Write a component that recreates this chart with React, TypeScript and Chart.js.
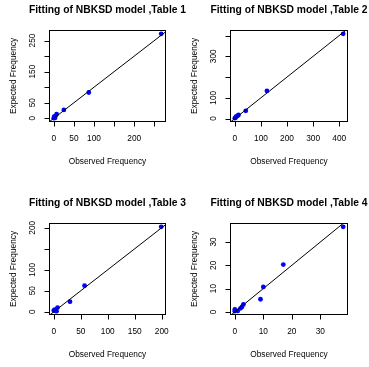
import React, { useEffect, useRef } from "react";
import { Chart, registerables } from "chart.js";

Chart.register(...registerables);

// ---------- data ----------
const titles = [
  "Fitting of NBKSD model ,Table 1",
  "Fitting of NBKSD model ,Table 2",
  "Fitting of NBKSD model ,Table 3",
  "Fitting of NBKSD model ,Table 4",
];

const observed1 = [0, 1, 3, 4, 7, 25, 87, 267];
const expected1 = [0.5, 5, 1, 7, 13, 27, 83, 271.5];
const observed2 = [0, 3, 6, 10, 14, 42, 123, 415];
const expected2 = [2, 5, 10, 13, 17, 37, 133, 408];
const observed3 = [0, 2, 5, 4, 7, 30, 57, 199];
const expected3 = [3, 5, 1.5, 2, 10, 24, 62, 202];
const observed4 = [0, 0, 1, 2, 2.5, 3, 9, 10, 17, 38];
const expected4 = [0.3, 1, 0.4, 1.5, 2.1, 3.2, 5.4, 10.7, 20.3, 36.5];

const xTicks1 = [0, 50, 100, 150, 200, 250];
const xTickLabels1 = ["0", "50", "100", "", "200", ""];
const yTicks1 = [0, 50, 100, 150, 200, 250];
const yTickLabels1 = ["0", "50", "", "150", "", "250"];

const xTicks2 = [0, 100, 200, 300, 400];
const xTickLabels2 = ["0", "100", "200", "300", "400"];
const yTicks2 = [0, 100, 200, 300, 400];
const yTickLabels2 = ["0", "100", "", "300", ""];

const xTicks3 = [0, 50, 100, 150, 200];
const xTickLabels3 = ["0", "50", "100", "150", "200"];
const yTicks3 = [0, 50, 100, 150, 200];
const yTickLabels3 = ["0", "50", "100", "", "200"];

const xTicks4 = [0, 10, 20, 30];
const xTickLabels4 = ["0", "10", "20", "30"];
const yTicks4 = [0, 10, 20, 30];
const yTickLabels4 = ["0", "10", "20", "30"];

const xTitle = "Observed Frequency";
const yTitle = "Expected Frequency";

// ---------- layout ----------
const W = 369;
const H = 367;
const FONT = '"Liberation Sans", Arial, Helvetica, sans-serif';

type PanelProps = {
  title: string;
  obs: number[];
  exp: number[];
  xTicks: number[];
  xTickLabels: string[];
  yTicks: number[];
  yTickLabels: string[];
  box: { left: number; top: number; right: number; bottom: number };
};

function rRange(v: number[]): [number, number] {
  const mn = Math.min(...v);
  const mx = Math.max(...v);
  const e = (mx - mn) * 0.04;
  return [mn - e, mx + e];
}

function Panel(p: PanelProps) {
  const ref = useRef<HTMLCanvasElement | null>(null);
  useEffect(() => {
    if (!ref.current) return;
    const [xMin, xMax] = rRange(p.obs);
    const [yMin, yMax] = rRange(p.exp);
    const lo = Math.min(xMin, yMin) - 1000;
    const hi = Math.max(xMax, yMax) + 1000;
    const points = p.obs.map((x, i) => ({ x, y: p.exp[i] }));

    const rPlot = {
      id: "rplot",
      afterDraw(chart: any) {
        const { ctx, chartArea: a } = chart;
        const xs = chart.scales.x;
        const ys = chart.scales.y;
        ctx.save();
        ctx.strokeStyle = "#000";
        ctx.lineWidth = 1;
        ctx.strokeRect(a.left, a.top, a.right - a.left, a.bottom - a.top);
        ctx.beginPath();
        const xp = p.xTicks.map((v) => Math.round(xs.getPixelForValue(v)) + 0.5);
        const yp = p.yTicks.map((v) => Math.round(ys.getPixelForValue(v)) + 0.5);
        ctx.moveTo(xp[0], a.bottom);
        ctx.lineTo(xp[xp.length - 1], a.bottom);
        xp.forEach((x) => {
          ctx.moveTo(x, a.bottom);
          ctx.lineTo(x, a.bottom + 5);
        });
        ctx.moveTo(a.left, yp[0]);
        ctx.lineTo(a.left, yp[yp.length - 1]);
        yp.forEach((y) => {
          ctx.moveTo(a.left, y);
          ctx.lineTo(a.left - 5, y);
        });
        ctx.stroke();

        ctx.fillStyle = "#000";
        ctx.font = `8.3px ${FONT}`;
        ctx.textAlign = "center";
        ctx.textBaseline = "middle";
        p.xTicks.forEach((v, i) => {
          const l = p.xTickLabels[i];
          if (l) ctx.fillText(l, xs.getPixelForValue(v), a.bottom + 17);
        });
        p.yTicks.forEach((v, i) => {
          const l = p.yTickLabels[i];
          if (!l) return;
          ctx.save();
          ctx.translate(a.left - 16.5, ys.getPixelForValue(v));
          ctx.rotate(-Math.PI / 2);
          ctx.fillText(l, 0, 0);
          ctx.restore();
        });
        const cx = (a.left + a.right) / 2;
        const cy = (a.top + a.bottom) / 2;
        ctx.fillText(xTitle, cx, a.bottom + 40.5);
        ctx.save();
        ctx.translate(a.left - 35.5, cy);
        ctx.rotate(-Math.PI / 2);
        ctx.fillText(yTitle, 0, 0);
        ctx.restore();

        ctx.font = `bold 10.3px ${FONT}`;
        ctx.fillText(p.title, cx, a.top - 20.5);
        ctx.restore();
      },
    };

    const chart = new Chart(ref.current, {
      type: "scatter",
      data: {
        datasets: [
          {
            data: [
              { x: lo, y: lo },
              { x: hi, y: hi },
            ],
            showLine: true,
            borderColor: "#000000",
            borderWidth: 1,
            pointRadius: 0,
          },
          {
            data: points,
            pointRadius: 2.4,
            pointStyle: "circle",
            backgroundColor: "#0000ff",
            borderColor: "#0000ff",
            borderWidth: 0,
          },
        ],
      },
      options: {
        animation: false,
        responsive: false,
        maintainAspectRatio: false,
        devicePixelRatio: 1,
        events: [],
        layout: {
          padding: {
            left: p.box.left,
            top: p.box.top,
            right: W - p.box.right,
            bottom: H - p.box.bottom,
          },
        },
        scales: {
          x: { type: "linear", min: xMin, max: xMax, display: false },
          y: { type: "linear", min: yMin, max: yMax, display: false },
        },
        plugins: {
          legend: { display: false },
          tooltip: { enabled: false },
          title: { display: false },
        },
      },
      plugins: [rPlot],
    } as any);
    return () => chart.destroy();
  }, []);
  return (
    <canvas
      ref={ref}
      width={W}
      height={H}
      style={{ position: "absolute", left: 0, top: 0, width: W, height: H }}
    />
  );
}

export default function App() {
  const colL = { left: 49.5, right: 165.5 };
  const colR = { left: 230.5, right: 347.5 };
  const rowT = { top: 30.5, bottom: 121.5 };
  const rowB = { top: 223.5, bottom: 314.5 };
  return (
    <div
      style={{
        position: "absolute",
        left: 0,
        top: 0,
        width: W,
        height: H,
        background: "#ffffff",
      }}
    >
      <Panel
        title={titles[0]}
        obs={observed1}
        exp={expected1}
        xTicks={xTicks1}
        xTickLabels={xTickLabels1}
        yTicks={yTicks1}
        yTickLabels={yTickLabels1}
        box={{ ...colL, ...rowT }}
      />
      <Panel
        title={titles[1]}
        obs={observed2}
        exp={expected2}
        xTicks={xTicks2}
        xTickLabels={xTickLabels2}
        yTicks={yTicks2}
        yTickLabels={yTickLabels2}
        box={{ ...colR, ...rowT }}
      />
      <Panel
        title={titles[2]}
        obs={observed3}
        exp={expected3}
        xTicks={xTicks3}
        xTickLabels={xTickLabels3}
        yTicks={yTicks3}
        yTickLabels={yTickLabels3}
        box={{ ...colL, ...rowB }}
      />
      <Panel
        title={titles[3]}
        obs={observed4}
        exp={expected4}
        xTicks={xTicks4}
        xTickLabels={xTickLabels4}
        yTicks={yTicks4}
        yTickLabels={yTickLabels4}
        box={{ ...colR, ...rowB }}
      />
    </div>
  );
}
